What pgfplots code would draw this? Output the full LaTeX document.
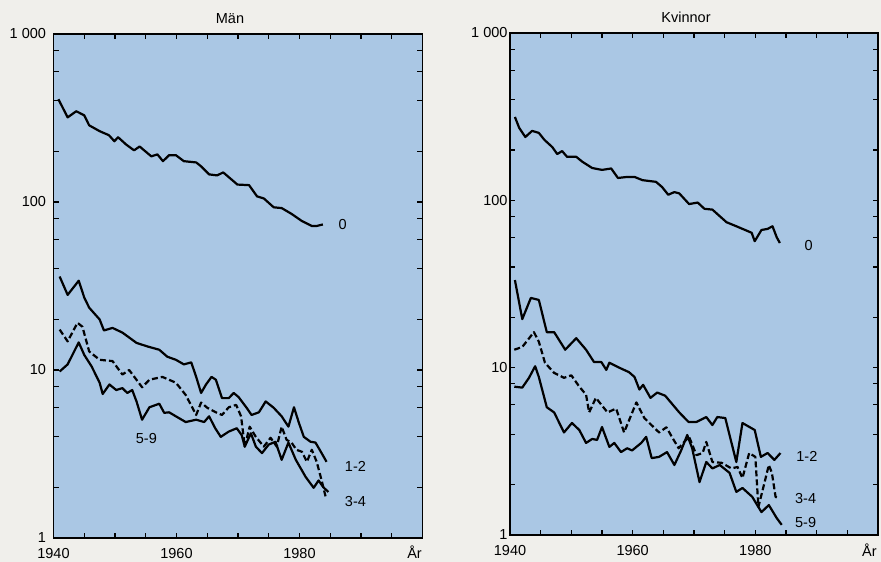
\documentclass[border=0pt]{standalone}
\usepackage{fontspec}
\setmainfont{Liberation Sans}
\usepackage{pgfplots}
\pgfplotsset{compat=1.18}
\definecolor{panel}{RGB}{170,199,228}
\definecolor{pagebg}{RGB}{240,239,235}
\newcommand\lbl{\fontsize{14.5}{16}\selectfont}
\pgfplotsset{
  panelstyle/.style={
    scale only axis, anchor=south west,
    xmin=1940, xmax=2000, ymin=1, ymax=1000,
    axis background/.style={fill=panel},
    xtick={1940,1960,1980}, xticklabels={1940,1960,1980},
    minor xtick={1945,1950,1955,1965,1970,1975,1985,1990,1995},
    ytick={1,10,100,1000}, yticklabels={1,10,100,{1 000}},
    minor ytick={2,4,6,8,20,40,60,80,200,400,600,800},
    major tick length=5pt, minor tick length=5pt,
    tick style={black, line width=1.2pt},
    axis line style={black, line width=1.3pt},
    tick label style={font=\lbl},
    /pgf/number format/assume math mode=true,
    xticklabel style={anchor=base, yshift=-21pt},
    title style={font=\lbl, anchor=base, yshift=4pt, xshift=-8pt},
    clip=false,
  },
  curve/.style={black, line width=2.2pt, line join=round, mark=none},
  dashedline/.style={curve, dash pattern=on 6pt off 3pt},
}
\begin{document}
\begin{tikzpicture}
\fill[pagebg] (0,0) rectangle (881pt,562pt);
\path[use as bounding box] (0,0) rectangle (881pt,562pt);
% ---------------- Män ----------------
\begin{axis}[ymode=log, panelstyle, at={(53.5pt,24pt)}, width=369pt, height=504pt,
  title={Män}, yticklabel style={xshift=-4pt}]
\addplot[curve] coordinates {(1940.8,409)(1942.3,319)(1943.7,347)(1945.0,328)(1945.8,286)(1947.5,264)(1949.0,250)(1949.9,230)(1950.5,243)(1951.8,220)(1953.1,203)(1954.0,214)(1955.9,187)(1956.9,192)(1957.8,175)(1958.8,190)(1959.9,190)(1961.2,175)(1963.2,172)(1964.0,163)(1965.3,146)(1966.6,144)(1967.6,150)(1969.9,127)(1971.8,126)(1973.1,108)(1974.2,105)(1975.8,93)(1977.1,92)(1978.7,85)(1980.4,77)(1982.0,72)(1982.8,72)(1983.8,73.5)};
\addplot[curve] coordinates {(1941.0,36)(1942.3,28)(1944.1,34)(1945.0,27)(1945.8,23.5)(1947.5,20)(1948.2,17.2)(1949.6,17.8)(1951.2,16.7)(1953.5,14.5)(1955.3,13.8)(1957.2,13.2)(1958.5,12.0)(1959.9,11.5)(1961.2,10.8)(1962.4,11.1)(1963.2,9.1)(1964.0,7.3)(1964.8,8.2)(1965.7,9.1)(1966.4,8.75)(1967.4,6.8)(1968.5,6.8)(1969.3,7.3)(1970.1,6.9)(1971.4,5.96)(1972.2,5.4)(1973.4,5.6)(1974.5,6.5)(1975.8,5.96)(1977.1,5.3)(1978.2,4.6)(1979.1,6.0)(1979.9,4.85)(1980.7,4.0)(1981.8,3.74)(1982.6,3.7)(1983.6,3.2)(1984.4,2.84)};
\addplot[dashedline] coordinates {(1941.0,17.4)(1942.3,14.8)(1943.9,19.1)(1944.7,18.1)(1945.8,12.9)(1947.5,11.5)(1949.6,11.3)(1951.2,9.4)(1952.3,10.0)(1954.4,7.9)(1955.6,8.75)(1957.7,9.1)(1959.9,8.4)(1961.5,7.1)(1963.2,5.4)(1964.0,6.4)(1965.0,5.96)(1966.4,5.6)(1967.4,5.4)(1968.5,6.0)(1969.7,6.2)(1970.5,5.3)(1971.1,3.5)(1971.9,4.6)(1972.9,4.0)(1974.2,3.5)(1975.3,3.95)(1976.3,3.5)(1977.1,4.6)(1977.9,3.84)(1978.7,3.7)(1979.5,3.35)(1980.4,3.26)(1981.2,2.84)(1982.0,3.35)(1982.8,2.84)(1983.6,2.2)(1984.3,1.73)};
\addplot[curve] coordinates {(1941.0,9.8)(1942.3,10.8)(1944.1,14.6)(1945.0,12.3)(1946.2,10.5)(1947.5,8.4)(1948.0,7.2)(1949.1,8.2)(1950.2,7.6)(1951.2,7.8)(1952.0,7.3)(1952.8,7.6)(1953.5,6.5)(1954.4,5.06)(1955.6,6.0)(1957.2,6.3)(1958.0,5.56)(1958.8,5.6)(1959.9,5.3)(1961.5,4.9)(1963.2,5.06)(1964.5,4.9)(1965.3,5.3)(1966.3,4.5)(1967.2,4.0)(1968.5,4.3)(1969.8,4.5)(1970.6,4.1)(1971.1,3.5)(1972.1,4.2)(1972.9,3.5)(1973.9,3.2)(1975.0,3.6)(1976.1,3.74)(1977.1,2.92)(1978.2,3.7)(1979.4,2.92)(1981.0,2.31)(1982.3,1.99)(1983.1,2.2)(1983.9,2.0)(1984.7,1.88)};
\node[font=\lbl] at (axis cs:1987,73.5) {0};
\node[font=\lbl] at (axis cs:1989.1,2.65) {1-2};
\node[font=\lbl] at (axis cs:1989.1,1.66) {3-4};
\node[font=\lbl] at (axis cs:1955.1,3.9) {5-9};
\node[font=\lbl, anchor=base, yshift=-21pt] at (axis cs:1998.7,1) {År};
\end{axis}
% ---------------- Kvinnor ----------------
\begin{axis}[ymode=log, panelstyle, at={(510pt,27pt)}, width=368pt, height=502pt,
  title={Kvinnor}, yticklabel style={xshift=1pt}]
\addplot[curve] coordinates {(1940.8,315)(1941.5,271)(1942.5,239)(1943.6,260)(1944.7,253)(1945.6,230)(1946.9,208)(1947.7,189)(1948.5,197)(1949.3,182)(1950.8,182)(1951.8,170)(1953.4,156)(1955.0,152)(1956.5,155)(1957.6,136)(1959.1,138)(1960.3,138)(1961.6,132)(1963.8,129)(1964.8,120)(1965.8,108)(1966.8,112)(1967.6,110)(1969.2,95)(1970.6,97)(1971.7,89)(1973.0,88)(1975.3,74)(1976.9,70)(1979.4,64)(1979.9,57)(1981.0,66.5)(1982.0,67.5)(1982.8,70)(1983.5,60)(1984.0,55.6)};
\addplot[curve] coordinates {(1940.8,33.4)(1942.0,19.5)(1943.4,26.1)(1944.7,25.4)(1946.0,16.3)(1947.2,16.3)(1949.0,12.8)(1950.8,15.0)(1952.4,12.8)(1953.7,10.8)(1954.9,10.8)(1955.7,9.7)(1956.2,10.7)(1957.8,10.0)(1959.4,9.4)(1960.3,8.8)(1961.1,7.4)(1961.7,7.9)(1962.9,6.6)(1964.0,7.1)(1965.3,6.8)(1967.6,5.4)(1969.1,4.74)(1970.4,4.74)(1972.0,5.07)(1973.0,4.54)(1973.8,5.07)(1975.1,5.0)(1976.9,2.73)(1977.9,4.67)(1979.9,4.24)(1980.9,2.93)(1982.0,3.09)(1983.1,2.81)(1984.1,3.09)};
\addplot[dashedline] coordinates {(1940.7,12.8)(1942.0,13.3)(1943.9,16.3)(1944.7,14.3)(1945.7,10.7)(1947.2,9.3)(1948.8,8.7)(1950.0,9.0)(1951.3,7.7)(1952.4,6.9)(1952.9,5.4)(1954.0,6.6)(1955.9,5.4)(1957.3,5.7)(1958.6,4.1)(1960.6,6.2)(1961.9,5.0)(1964.3,4.1)(1965.5,4.4)(1966.5,3.8)(1967.5,3.3)(1968.4,3.6)(1969.2,3.86)(1970.4,3.0)(1971.4,3.09)(1972.0,3.6)(1973.0,2.73)(1974.5,2.7)(1976.1,2.5)(1977.1,2.55)(1977.9,2.19)(1979.0,3.09)(1980.0,2.93)(1980.5,1.47)(1981.2,1.86)(1982.2,2.62)(1982.7,2.35)(1983.3,1.69)(1983.7,1.66)};
\addplot[curve] coordinates {(1940.7,7.7)(1942.0,7.6)(1943.1,8.7)(1944.1,10.2)(1944.7,8.8)(1946.0,5.8)(1947.2,5.4)(1948.8,4.1)(1950.1,4.67)(1951.3,4.24)(1952.4,3.55)(1953.4,3.75)(1954.2,3.7)(1955.0,4.42)(1956.2,3.36)(1957.0,3.55)(1958.1,3.13)(1959.1,3.3)(1959.9,3.2)(1961.4,3.55)(1962.2,3.86)(1963.1,2.88)(1964.3,2.93)(1965.6,3.13)(1966.8,2.62)(1967.9,3.2)(1968.9,3.96)(1969.7,3.3)(1970.9,2.07)(1972.0,2.73)(1973.0,2.5)(1974.2,2.62)(1975.8,2.35)(1976.9,1.81)(1977.9,1.91)(1979.5,1.69)(1981.0,1.37)(1982.2,1.51)(1983.5,1.26)(1984.3,1.15)};
\node[font=\lbl] at (axis cs:1988.7,54) {0};
\node[font=\lbl] at (axis cs:1988.4,2.93) {1-2};
\node[font=\lbl] at (axis cs:1988.2,1.66) {3-4};
\node[font=\lbl] at (axis cs:1988.2,1.18) {5-9};
\node[font=\lbl, anchor=base, yshift=-22pt] at (axis cs:1998.6,1) {År};
\end{axis}
\end{tikzpicture}
\end{document}
